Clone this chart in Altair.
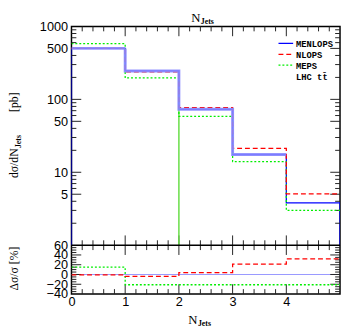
import altair as alt
import pandas as pd

# ---------------- data ----------------
edges = [0, 1, 2, 3, 4, 5]
menlops = [500, 245, 73, 17.5, 3.8]
nlops = [500, 238, 77, 21.3, 5.05]
meps = [580, 197, 58.5, 14.0, 3.0]
ratio_menlops = [0, 0, 0, 0, 0]
ratio_nlops = [-1, -4, 4, 21, 32]
ratio_meps = [15, -21, -21, -21, -21]
# stray MEPS edge drawn down to the floor at N=2
stray_x = [2]
stray_top = [73]
# light uncertainty band seen around MENLOPS in the first four bins
band_edges = [0, 1, 2, 3, 4]
band_vals = [500, 245, 73, 17.5]

main_labels = [5, 10, 50, 100, 500, 1000]
main_major = [5, 10, 50, 100, 500]
main_minor = [2, 3, 4, 6, 7, 8, 9, 20, 30, 40, 60, 70, 80, 90,
              200, 300, 400, 600, 700, 800, 900]
ratio_labels = [-40, -20, 0, 20, 40, 60]
ratio_major = [-20, 0, 20, 40]
ratio_minor = [-35, -30, -25, -15, -10, -5, 5, 10, 15, 25, 30, 35, 45, 50, 55]
x_labels = [0, 1, 2, 3, 4]
x_major = [1, 2, 3, 4]
x_minor = [0.2, 0.4, 0.6, 0.8, 1.2, 1.4, 1.6, 1.8, 2.2, 2.4, 2.6, 2.8,
           3.2, 3.4, 3.6, 3.8, 4.2, 4.4, 4.6, 4.8]

legend_names = ["MENLOPS", "NLOPS", "MEPS"]
legend_colors = ["#0000ff", "#ff0000", "#00ee00"]
legend_dash = [[1, 0], [5, 3], [2, 2]]

W = 275
H_MAIN = 224
H_RATIO = 50
H = H_MAIN + H_RATIO
LABEL_FONT = "Liberation Sans"
SERIF = "Liberation Serif"
MONO = "Liberation Mono"


def step_df(vals, floor=None, bins=edges):
    xs, ys = [], []
    if floor is not None:
        xs.append(bins[0]); ys.append(floor)
    for e, v in zip(bins[:-1], vals):
        xs.append(e); ys.append(v)
    xs.append(bins[-1]); ys.append(vals[-1])
    if floor is not None:
        xs.append(bins[-1]); ys.append(floor)
    return pd.DataFrame({"x": xs, "y": ys, "i": list(range(len(xs)))})


def make_axis(values, pad, orient):
    return alt.Axis(values=values, format="d", ticks=False, tickSize=0,
                    domain=False, grid=False, labelFont=LABEL_FONT,
                    labelFontSize=13, labelPadding=pad, labelColor="black",
                    labelOverlap=False, labelFlush=False, title=None,
                    orient=orient)


xscale = alt.Scale(domain=[0, 5], nice=False, zero=False)
XAXIS = make_axis(x_labels, 2, "bottom")
ys_main = alt.Scale(type="log", domain=[1, 1000], range=[H_MAIN, 0], nice=False)
ys_ratio = alt.Scale(domain=[-40, 60], range=[H, H_MAIN], nice=False, zero=False)


def step_line(df, yscale, color, dash, width=1.3, yaxis=None, opacity=1.0):
    return alt.Chart(df).mark_line(
        interpolate="step-after", clip=True, color=color,
        strokeDash=dash, strokeWidth=width, opacity=opacity
    ).encode(
        x=alt.X("x:Q", scale=xscale, axis=XAXIS),
        y=alt.Y("y:Q", scale=yscale, axis=yaxis),
        order=alt.Order("i:Q"),
    )


def yticks(vals, yscale, length, side):
    df = pd.DataFrame({"y": vals})
    if side == "left":
        xe = dict(x=alt.value(0), x2=alt.value(length))
    else:
        xe = dict(x=alt.value(W), x2=alt.value(W - length))
    return alt.Chart(df).mark_rule(color="#222222", strokeWidth=1).encode(
        y=alt.Y("y:Q", scale=yscale, axis=None), **xe)


def xticks(vals, length, y0, direction):
    df = pd.DataFrame({"x": vals})
    return alt.Chart(df).mark_rule(color="#222222", strokeWidth=1).encode(
        x=alt.X("x:Q", scale=xscale, axis=XAXIS),
        y=alt.value(y0), y2=alt.value(y0 + direction * length))


def label(text, x, y, size, font=SERIF, weight="normal", align="left",
          angle=0, baseline="alphabetic", color="black"):
    return alt.Chart(pd.DataFrame({"t": [text]})).mark_text(
        font=font, fontSize=size, fontWeight=weight, align=align,
        baseline=baseline, angle=angle, color=color
    ).encode(text="t:N", x=alt.value(x), y=alt.value(y))


def frame_ticks(yscale, major, minor, top, bottom):
    return [
        yticks(major, yscale, 10, "left"), yticks(minor, yscale, 5, "left"),
        yticks(major, yscale, 10, "right"), yticks(minor, yscale, 5, "right"),
        xticks(x_major, 10, top, 1), xticks(x_minor, 5, top, 1),
        xticks(x_major, 10, bottom, -1), xticks(x_minor, 5, bottom, -1),
    ]


# ---------------- main panel ----------------
blue_main = step_line(step_df(menlops, floor=1), ys_main, "#0000ff", [1, 0],
                      width=1.3, yaxis=make_axis(main_labels, 4, "left"))
blue_band = step_line(step_df(band_vals, bins=band_edges), ys_main, "#8a8aff",
                      [1, 0], width=3, opacity=0.9)
green_main = step_line(step_df(meps), ys_main, "#00ee00", [2, 2])
red_main = step_line(step_df(nlops), ys_main, "#ff0000", [5, 3])

stray = alt.Chart(pd.DataFrame({"x": stray_x, "y": [1], "y2": stray_top})).mark_rule(
    color="#66dd44", strokeWidth=1.5).encode(
    x=alt.X("x:Q", scale=xscale, axis=XAXIS),
    y=alt.Y("y:Q", scale=ys_main, axis=None), y2="y2:Q")

# legend (inside the plot, top right)
leg_layers = []
for k, (nm, col, dsh) in enumerate(zip(legend_names, legend_colors, legend_dash)):
    ly = 17.3 + 11.2 * k
    leg_layers.append(alt.Chart(pd.DataFrame({"a": [0]})).mark_rule(
        color=col, strokeDash=dsh, strokeWidth=1.3).encode(
        x=alt.value(212), x2=alt.value(227), y=alt.value(ly)))
    leg_layers.append(label(nm, 230, ly + 3.5, 9, font=MONO, weight="bold"))
leg_layers.append(label("LHC tt\u0304", 230, 17.3 + 11.2 * 3 + 3.5, 9,
                        font=MONO, weight="bold"))

texts = [
    label("N", 132, -4.5, 13, align="right"),
    label("Jets", 132.5, -2.8, 8, weight="bold"),
    label("d\u03c3/dN", -54.5, 155.3, 12, angle=270),
    label("Jets", -51.5, 124.5, 8, weight="bold", angle=270),
    label("[pb]", -54.5, 87.5, 12, angle=270),
    label("\u0394\u03c3/\u03c3 [%]", -54.5, H_MAIN + 24, 12, angle=270,
          align="center"),
    label("N", 129, H + 31, 13, align="right"),
    label("Jets", 129.5, H + 33, 8, weight="bold"),
]

# ---------------- ratio panel ----------------
blue_ratio = alt.Chart(step_df(ratio_menlops)).mark_line(
    interpolate="step-after", clip=True, color="#9a9aff", strokeWidth=1.2
).encode(
    x=alt.X("x:Q", scale=xscale, axis=XAXIS),
    y=alt.Y("y:Q", scale=ys_ratio, axis=make_axis(ratio_labels, 4, "left")),
    order=alt.Order("i:Q"),
)
red_ratio = step_line(step_df(ratio_nlops), ys_ratio, "#ff0000", [5, 3])
green_ratio = step_line(step_df(ratio_meps), ys_ratio, "#00ee00", [2, 2])

separator = alt.Chart(pd.DataFrame({"a": [0]})).mark_rule(
    color="black", strokeWidth=1.5).encode(
    x=alt.value(0), x2=alt.value(W), y=alt.value(H_MAIN))

chart = alt.layer(
    blue_main, blue_ratio,
    *frame_ticks(ys_main, main_major, main_minor, 0, H_MAIN),
    *frame_ticks(ys_ratio, ratio_major, ratio_minor, H_MAIN, H),
    stray, green_main, red_main, blue_band, green_ratio, red_ratio, separator,
    *leg_layers, *texts
).resolve_scale(y="independent").resolve_axis(y="independent").properties(
    width=W, height=H,
    padding={"left": 0, "top": 0, "right": 0, "bottom": 0}
).configure_view(stroke="black", strokeWidth=1.5)

chart.save("out.html", embed_options={"renderer": "svg", "actions": False})
